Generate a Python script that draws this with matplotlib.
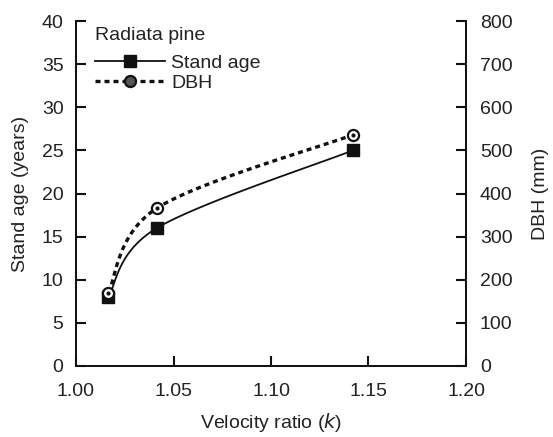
import numpy as np
import matplotlib
matplotlib.use("Agg")
import matplotlib.pyplot as plt
from matplotlib.lines import Line2D

plt.rcParams['font.family'] = ['Liberation Sans', 'DejaVu Sans']

k = [1.0165, 1.0415, 1.1420]
stand_age = [8.0, 16.0, 25.0]
dbh = [170, 366, 536]

xticks = [1.00, 1.05, 1.10, 1.15, 1.20]
yticks_left = [0, 5, 10, 15, 20, 25, 30, 35, 40]
yticks_right = [0, 100, 200, 300, 400, 500, 600, 700, 800]

XLIM = (1.00, 1.20)
YLIM_L = (0, 40)
YLIM_R = (0, 800)

TXT = '#222222'
LC = '#111111'
FS = 14


def catmull_rom(xs, ys, xlim, ylim, n=60):
    """Smooth curve through points, computed in normalised axes space."""
    px = (np.asarray(xs) - xlim[0]) / (xlim[1] - xlim[0]) * 390.0
    py = (np.asarray(ys) - ylim[0]) / (ylim[1] - ylim[0]) * 345.0
    P = np.column_stack([px, py])
    P = np.vstack([P[0], P, P[-1]])
    out = []
    for i in range(1, len(P) - 2):
        p0, p1, p2, p3 = P[i - 1], P[i], P[i + 1], P[i + 2]
        t = np.linspace(0, 1, n)[:, None]
        seg = 0.5 * ((2 * p1) + (-p0 + p2) * t
                     + (2 * p0 - 5 * p1 + 4 * p2 - p3) * t ** 2
                     + (-p0 + 3 * p1 - 3 * p2 + p3) * t ** 3)
        out.append(seg)
    C = np.vstack(out)
    cx = C[:, 0] / 390.0 * (xlim[1] - xlim[0]) + xlim[0]
    cy = C[:, 1] / 345.0 * (ylim[1] - ylim[0]) + ylim[0]
    return cx, cy


fig = plt.figure(figsize=(5.53, 4.37), dpi=100)
ax = fig.add_axes([76/553, 1 - 366/437, 390/553, 345/437])
ax2 = ax.twinx()

DOT = (0, (1.5, 1.2))

xs, ys = catmull_rom(k, stand_age, XLIM, YLIM_L)
ax.plot(xs, ys, color=LC, lw=1.3)
ax.plot(k, stand_age, 's', color=LC, ms=9)

xd, yd = catmull_rom(k, dbh, XLIM, YLIM_R)
ax2.plot(xd, yd, color=LC, lw=2.4, linestyle=DOT)
ax2.plot(k, dbh, 'o', mfc='white', mec=LC, mew=1.6, ms=8)
ax2.plot(k, dbh, '.', color=LC, ms=4)

ax.set_xlim(*XLIM)
ax.set_ylim(*YLIM_L)
ax2.set_ylim(*YLIM_R)
ax.set_xticks(xticks)
ax.set_xticklabels([f"{v:.2f}" for v in xticks])
ax.set_yticks(yticks_left)
ax2.set_yticks(yticks_right)

for a in (ax, ax2):
    a.spines['top'].set_visible(False)
    for s in a.spines.values():
        s.set_linewidth(1.3)
        s.set_color(LC)
    a.tick_params(direction='in', length=7, width=1.5, colors=LC,
                  labelcolor=TXT, labelsize=FS)
ax.tick_params(axis='x', pad=12)
ax.tick_params(axis='y', pad=9)
ax2.tick_params(axis='y', pad=10)

ax.set_xlabel('Velocity ratio ($\\it{k}$)', fontsize=FS, color=TXT, labelpad=8)
ax.set_ylabel('Stand age (years)', fontsize=FS, color=TXT, labelpad=9)
ax2.set_ylabel('DBH (mm)', fontsize=FS, color=TXT, labelpad=14)

ax.text(0.049, 0.959, 'Radiata pine', transform=ax.transAxes, fontsize=FS,
        color=TXT, ha='left', va='center')

h1 = Line2D([], [], color=LC, lw=1.3, marker='s', ms=9)
h2 = Line2D([], [], color=LC, lw=2.4, linestyle=DOT,
            marker='o', mfc='#555555', mec=LC, mew=1.6, ms=8)
leg = ax2.legend([h1, h2], ['Stand age', 'DBH'],
                 loc='upper left', bbox_to_anchor=(0.045, 0.908), frameon=False,
                 fontsize=FS, handlelength=3.6,
                 handletextpad=0.3, labelspacing=0.1, borderpad=0.1,
                 borderaxespad=0.0)
for t in leg.get_texts():
    t.set_color(TXT)

fig.savefig('out.png', dpi=100)
